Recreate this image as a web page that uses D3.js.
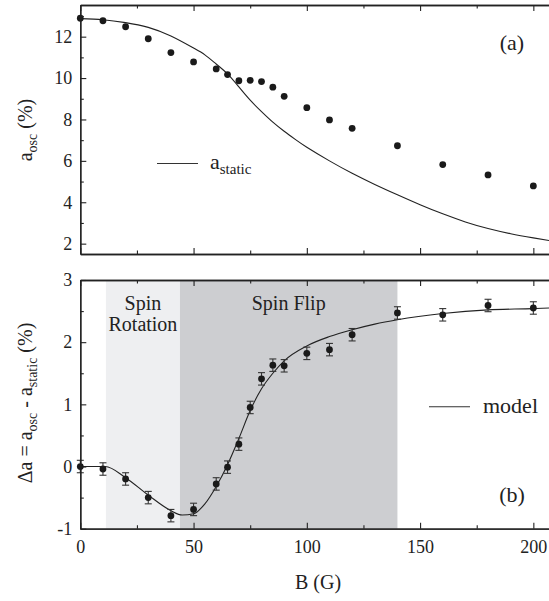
<!DOCTYPE html>
<html>
<head>
<meta charset="utf-8">
<script src="https://cdn.jsdelivr.net/npm/d3@7"></script>
<style>
  body { margin: 0; background: #fff; }
  svg text { font-family: "Liberation Serif", "Times New Roman", Times, "Nimbus Roman", Tinos, "DejaVu Serif", serif; }
</style>
</head>
<body>
<div id="chart"></div>
<script>
const width = 549;
const height = 601;
const serif = "'Liberation Serif', 'Times New Roman', Times, 'Nimbus Roman', Tinos, 'DejaVu Serif', serif";

// panel (a): measured asymmetry
const fieldA = [0, 10, 20, 30, 40, 50, 60, 65, 70, 75, 80, 85, 90, 100, 110, 120, 140, 160, 180, 200];
const aOsc = [12.89, 12.77, 12.48, 11.90, 11.23, 10.78, 10.44, 10.17, 9.87, 9.89, 9.83, 9.56, 9.12, 8.57, 7.98, 7.57, 6.73, 5.82, 5.32, 4.79];

// panel (a): static curve
const staticB = [0, 10, 20, 30, 40, 50, 55, 60, 65, 70, 75, 80, 85, 90, 95, 100, 110, 120, 130, 140, 150, 160, 170, 180, 190, 200, 207];
const staticA = [12.87, 12.82, 12.68, 12.45, 12.03, 11.45, 11.12, 10.68, 10.2, 9.57, 8.93, 8.38, 7.87, 7.43, 7.03, 6.66, 6.0, 5.4, 4.86, 4.36, 3.88, 3.44, 3.05, 2.73, 2.48, 2.28, 2.15];

// panel (b): difference with error bars
const fieldB = [0, 10, 20, 30, 40, 50, 60, 65, 70, 75, 80, 85, 90, 100, 110, 120, 140, 160, 180, 200];
const deltaA = [0.0, -0.04, -0.2, -0.5, -0.79, -0.69, -0.28, -0.01, 0.36, 0.95, 1.41, 1.63, 1.62, 1.82, 1.88, 2.12, 2.47, 2.44, 2.59, 2.55];
const deltaErr = [0.1, 0.1, 0.1, 0.1, 0.1, 0.1, 0.1, 0.1, 0.1, 0.1, 0.1, 0.1, 0.1, 0.1, 0.1, 0.1, 0.1, 0.1, 0.1, 0.1];

// panel (b): model curve
const modelB = [0, 11, 20, 30, 40, 45, 50, 55, 60, 65, 70, 75, 80, 85, 90, 100, 110, 120, 130, 140, 160, 180, 200, 207];
const modelA = [0, 0, -0.18, -0.46, -0.71, -0.78, -0.76, -0.6, -0.32, 0.03, 0.45, 0.9, 1.25, 1.5, 1.7, 1.94, 2.09, 2.2, 2.29, 2.36, 2.46, 2.52, 2.54, 2.55];

// shaded regimes
const regions = [
  { name: ["Spin", "Rotation"], from: 11.3, to: 44, fill: "#eeeff1" },
  { name: ["Spin Flip"], from: 44, to: 140, fill: "#cdced1" }
];

const xTicks = [0, 50, 100, 150, 200];
const xMinor = [25, 75, 125, 175];
const yTicksA = [2, 4, 6, 8, 10, 12];
const yMinorA = [3, 5, 7, 9, 11, 13];
const yTicksB = [-1, 0, 1, 2, 3];
const yMinorB = [-0.5, 0.5, 1.5, 2.5];

const svg = d3.select("#chart")
    .append("svg")
    .attr("width", width)
    .attr("height", height)
    .attr("font-family", serif);

const x = d3.scaleLinear().domain([0, 207]).range([80.3, 549.2]);
const yA = d3.scaleLinear().domain([1.5, 13.53]).range([254, 5]);
const yB = d3.scaleLinear().domain([-1, 3]).range([528.7, 280]);

const plain = d => String(d);

// draw frame + inward ticks for one panel
function frame(y, majors, minors) {
    const g = svg.append("g");
    const [y0, y1] = y.range();
    const [x0] = x.range();

    g.append("g").attr("transform", `translate(0,${y0})`)
        .call(d3.axisBottom(x).tickValues(xTicks).tickSizeInner(-6).tickSizeOuter(0).tickFormat(""));
    g.append("g").attr("transform", `translate(0,${y0})`)
        .call(d3.axisBottom(x).tickValues(xMinor).tickSizeInner(-3.5).tickSizeOuter(0).tickFormat(""));
    g.append("g").attr("transform", `translate(0,${y1})`)
        .call(d3.axisTop(x).tickValues(xTicks).tickSizeInner(-6).tickSizeOuter(0).tickFormat(""));
    g.append("g").attr("transform", `translate(0,${y1})`)
        .call(d3.axisTop(x).tickValues(xMinor).tickSizeInner(-3.5).tickSizeOuter(0).tickFormat(""));

    g.append("g").attr("transform", `translate(${x0},0)`)
        .call(d3.axisLeft(y).tickValues(majors).tickSizeInner(-6).tickSizeOuter(0).tickPadding(8).tickFormat(plain))
        .call(a => a.selectAll("text").attr("font-size", 18).attr("fill", "#222"));
    g.append("g").attr("transform", `translate(${x0},0)`)
        .call(d3.axisLeft(y).tickValues(minors).tickSizeInner(-3.5).tickSizeOuter(0).tickFormat(""));

    g.selectAll("g").attr("font-family", serif);
    g.selectAll(".domain").attr("stroke", "#222").attr("stroke-width", 1.3);
    g.selectAll(".tick line").attr("stroke", "#222").attr("stroke-width", 1.1);
    return g;
}

// ---------- panel (a) ----------
const lineA = d3.line().x(d => x(d[0])).y(d => yA(d[1])).curve(d3.curveNatural);
svg.append("path")
    .datum(d3.zip(staticB, staticA))
    .attr("d", lineA)
    .attr("fill", "none")
    .attr("stroke", "#222")
    .attr("stroke-width", 1.1);

svg.append("g").selectAll("circle")
    .data(d3.zip(fieldA, aOsc))
    .enter().append("circle")
    .attr("cx", d => x(d[0]))
    .attr("cy", d => yA(d[1]))
    .attr("r", 3.4)
    .attr("fill", "#1a1a1a");

frame(yA, yTicksA, yMinorA);

// legend (a)
svg.append("line").attr("x1", 157).attr("x2", 198).attr("y1", 163.5).attr("y2", 163.5)
    .attr("stroke", "#333").attr("stroke-width", 1.1);
const legA = svg.append("text").attr("x", 210).attr("y", 169).attr("font-size", 22).attr("fill", "#222");
legA.append("tspan").text("a");
legA.append("tspan").attr("dy", 5).attr("font-size", 15).text("static");

svg.append("text").attr("x", 512).attr("y", 50).attr("text-anchor", "middle")
    .attr("font-size", 22).attr("fill", "#222").text("(a)");

// y label (a)
const labA = svg.append("text")
    .attr("transform", "translate(32,130) rotate(-90)")
    .attr("text-anchor", "middle").attr("font-size", 20).attr("fill", "#222");
labA.append("tspan").text("a");
labA.append("tspan").attr("dy", 5).attr("font-size", 14).text("osc");
labA.append("tspan").attr("dy", -5).text(" (%)");

// ---------- panel (b) ----------
svg.append("g").selectAll("rect")
    .data(regions)
    .enter().append("rect")
    .attr("x", d => x(d.from))
    .attr("width", d => x(d.to) - x(d.from))
    .attr("y", yB(3))
    .attr("height", yB(-1) - yB(3))
    .attr("fill", d => d.fill);

svg.append("g").selectAll("text")
    .data(regions)
    .enter().append("text")
    .attr("text-anchor", "middle")
    .attr("font-size", 20)
    .attr("fill", "#222")
    .each(function(d) {
        const t = d3.select(this);
        d.name.forEach((s, i) => {
            t.append("tspan").attr("x", x((d.from + d.to) / 2)).attr("y", 310 + i * 21).text(s);
        });
    });

const lineB = d3.line().x(d => x(d[0])).y(d => yB(d[1])).curve(d3.curveMonotoneX);
svg.append("path")
    .datum(d3.zip(modelB, modelA))
    .attr("d", lineB)
    .attr("fill", "none")
    .attr("stroke", "#222")
    .attr("stroke-width", 1.1);

const pts = svg.append("g").selectAll("g")
    .data(d3.zip(fieldB, deltaA, deltaErr))
    .enter().append("g");
pts.append("line")
    .attr("x1", d => x(d[0])).attr("x2", d => x(d[0]))
    .attr("y1", d => yB(d[1] - d[2])).attr("y2", d => yB(d[1] + d[2]))
    .attr("stroke", "#333").attr("stroke-width", 1.1);
[-1, 1].forEach(s => {
    pts.append("line")
        .attr("x1", d => x(d[0]) - 3.5).attr("x2", d => x(d[0]) + 3.5)
        .attr("y1", d => yB(d[1] + s * d[2])).attr("y2", d => yB(d[1] + s * d[2]))
        .attr("stroke", "#333").attr("stroke-width", 1.1);
});
pts.append("circle")
    .attr("cx", d => x(d[0]))
    .attr("cy", d => yB(d[1]))
    .attr("r", 3.4)
    .attr("fill", "#1a1a1a");

frame(yB, yTicksB, yMinorB);

// x tick labels (bottom only)
svg.append("g").attr("transform", `translate(0,${yB(-1)})`)
    .call(d3.axisBottom(x).tickValues(xTicks).tickSize(0).tickPadding(12).tickFormat(plain))
    .attr("font-family", serif)
    .call(a => a.select(".domain").remove())
    .call(a => a.selectAll("text").attr("font-size", 18).attr("fill", "#222"));

// legend (b)
svg.append("line").attr("x1", 429).attr("x2", 470).attr("y1", 406.7).attr("y2", 406.7)
    .attr("stroke", "#333").attr("stroke-width", 1.1);
svg.append("text").attr("x", 483).attr("y", 413).attr("font-size", 22).attr("fill", "#222").text("model");

svg.append("text").attr("x", 512).attr("y", 502).attr("text-anchor", "middle")
    .attr("font-size", 22).attr("fill", "#222").text("(b)");

// y label (b)
const labB = svg.append("text")
    .attr("transform", "translate(32,403) rotate(-90)")
    .attr("text-anchor", "middle").attr("font-size", 20).attr("fill", "#222");
labB.append("tspan").text("\u0394a = a");
labB.append("tspan").attr("dy", 5).attr("font-size", 14).text("osc");
labB.append("tspan").attr("dy", -5).text(" - a");
labB.append("tspan").attr("dy", 5).attr("font-size", 14).text("static");
labB.append("tspan").attr("dy", -5).text(" (%)");

// x label
svg.append("text").attr("x", 318).attr("y", 589).attr("text-anchor", "middle")
    .attr("font-size", 20).attr("fill", "#222").text("B (G)");
</script>
</body>
</html>
